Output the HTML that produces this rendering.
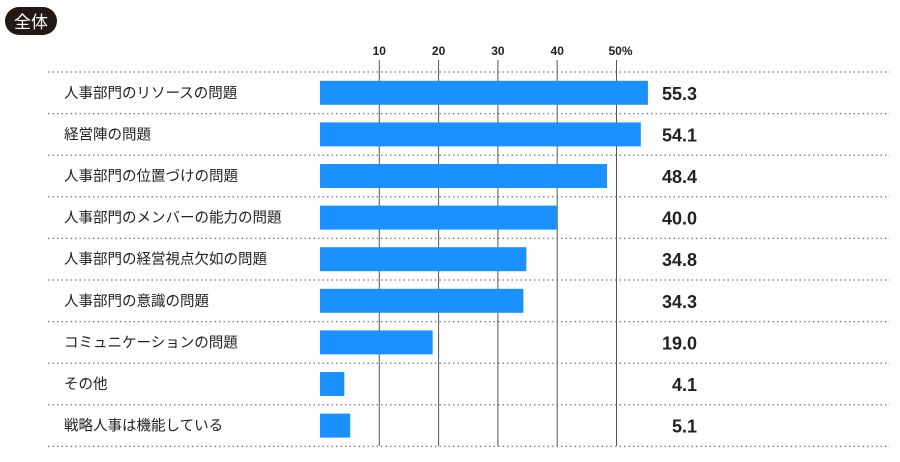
<!DOCTYPE html>
<html><head><meta charset="utf-8"><style>
body{margin:0;background:#fff;font-family:"Liberation Sans","Noto Sans CJK JP",sans-serif}
</style></head><body>
<svg id="c" width="900" height="457" xmlns="http://www.w3.org/2000/svg">
<rect x="5" y="7" width="52" height="28" rx="14" fill="#231815"/>
<text x="31" y="28" fill="#fff" font-size="17" text-anchor="middle" font-family="Noto Sans CJK JP,sans-serif">全体</text>
</svg>
<script>
const categories=["人事部門のリソースの問題","経営陣の問題","人事部門の位置づけの問題","人事部門のメンバーの能力の問題","人事部門の経営視点欠如の問題","人事部門の意識の問題","コミュニケーションの問題","その他","戦略人事は機能している"];
const values=[55.3,54.1,48.4,40.0,34.8,34.3,19.0,4.1,5.1];
const labels=["55.3","54.1","48.4","40.0","34.8","34.3","19.0","4.1","5.1"];
const ticks=[10,20,30,40,50];
const tickLabels=["10","20","30","40","50%"];
const svg=document.getElementById('c');const NS="http://www.w3.org/2000/svg";
const x=v=>320+v*5.93;const rowTop=i=>72+i*41.6;
function mk(t,a,txt){const e=document.createElementNS(NS,t);for(const k in a)e.setAttribute(k,a[k]);if(txt!=null)e.textContent=txt;svg.appendChild(e);return e;}
for(let i=0;i<=categories.length;i++){
const l=mk('line',{x1:48,x2:890,y1:rowTop(i),y2:rowTop(i),stroke:'#888','stroke-width':1.5,'stroke-dasharray':'1.5 3'});

}
ticks.forEach((t,j)=>{
const g=mk('line',{x1:x(t),x2:x(t),y1:60,y2:446,stroke:'#555','stroke-width':1});


const tl=mk('text',{x:x(t)+(j==4?4:0),y:55,'font-size':12,'font-weight':'bold','text-anchor':'middle',fill:'#222'},tickLabels[j]);

});
categories.forEach((c,i)=>{
const cy=rowTop(i)+20.8;
const t=mk('text',{x:64,y:cy+5,'font-size':14.5,fill:'#222'},c);


const b=mk('rect',{x:320,y:cy-12,width:x(values[i])-320,height:24,fill:'#1a91ff'});


const v=mk('text',{x:697,y:cy+7,'font-size':18,'font-weight':'bold','text-anchor':'end',fill:'#222'},labels[i]);

});
</script>
</body></html>
